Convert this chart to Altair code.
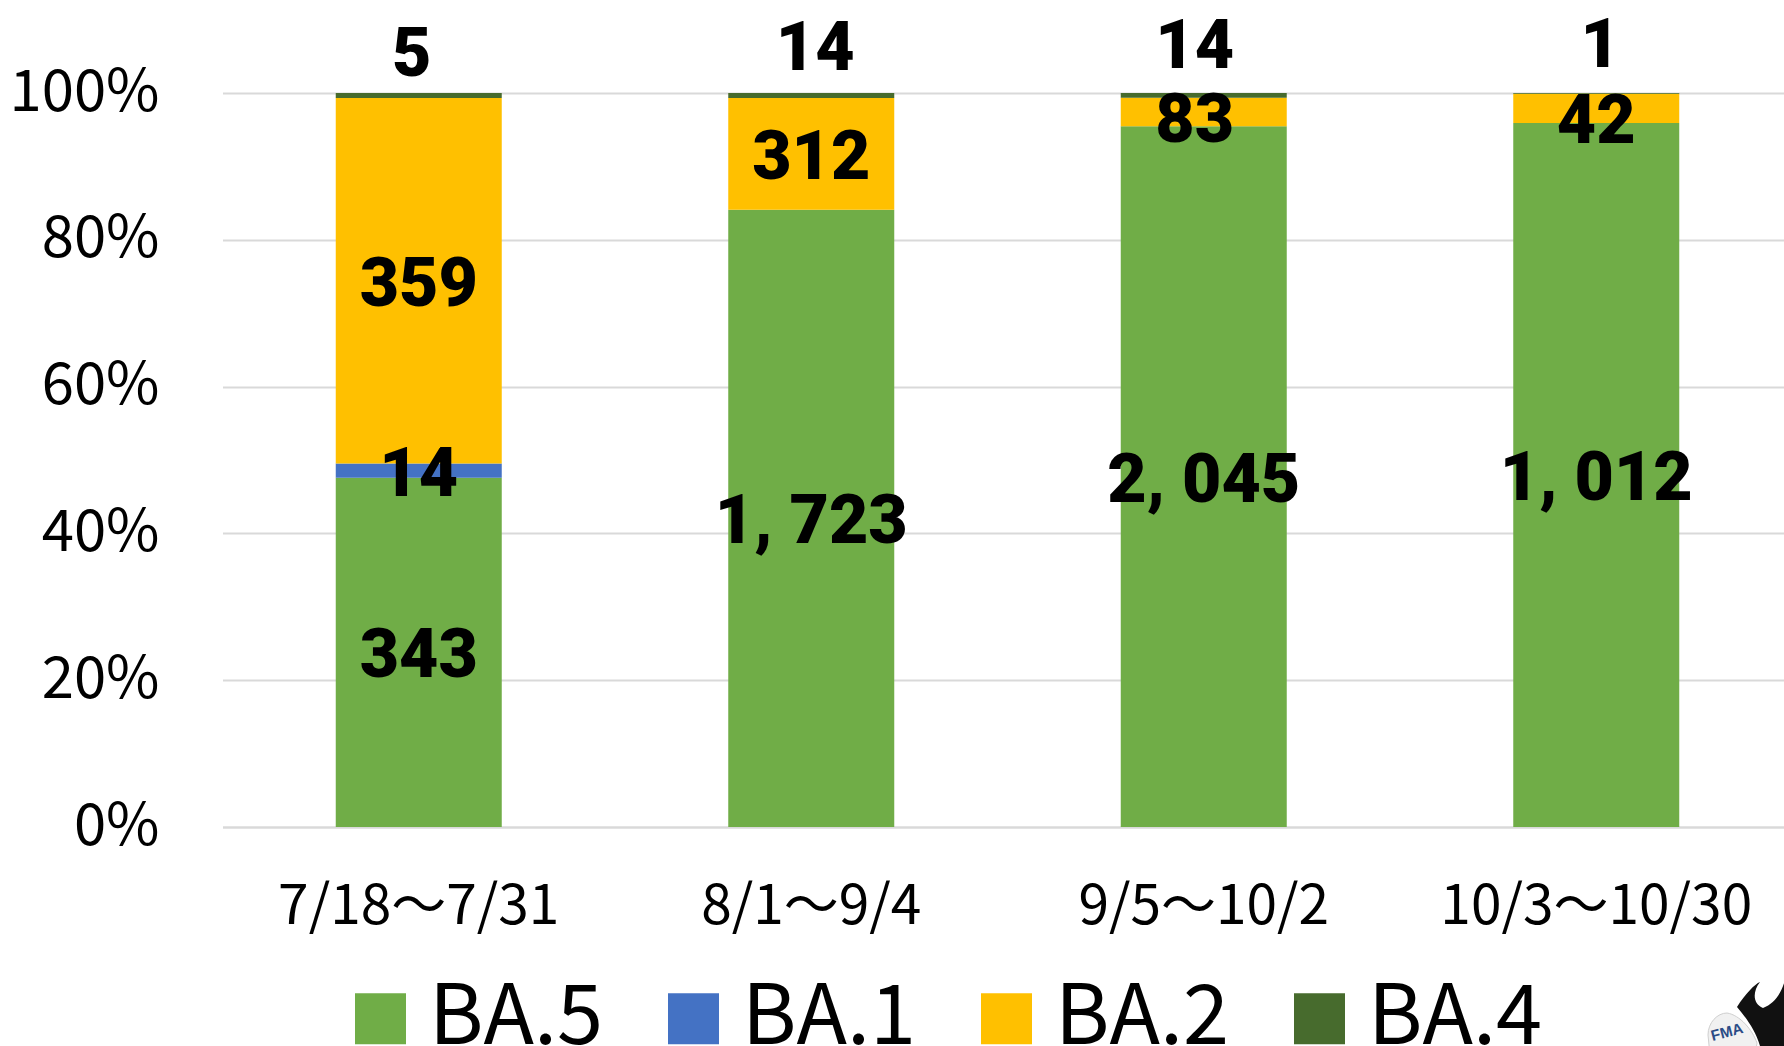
import altair as alt
import pandas as pd

periods = ["7/18〜7/31", "8/1〜9/4", "9/5〜10/2", "10/3〜10/30"]
variants = ["BA.5", "BA.1", "BA.2", "BA.4"]
colors = ["#70ad47", "#4472c4", "#ffc000", "#476b2d"]

ba5 = [343, 1723, 2045, 1012]
ba1 = [14, 0, 0, 0]
ba2 = [359, 312, 83, 42]
ba4 = [5, 14, 14, 1]

JP_FONT = "Noto Sans CJK JP"
NUM_FONT = "Roboto"

rows = []
for p, period in enumerate(periods):
    counts = [ba5[p], ba1[p], ba2[p], ba4[p]]
    total = sum(counts)
    running = 0
    for v, variant in enumerate(variants):
        count = counts[v]
        rows.append({
            "period": period,
            "variant": variant,
            "order": v,
            "count": count,
            "mid": (running + count / 2) / total,
            "label": f"{count:,}".replace(",", ", "),
        })
        running += count
df = pd.DataFrame(rows)

x_enc = alt.X(
    "period:N",
    sort=periods,
    title=None,
    scale=alt.Scale(domain=periods, range=[0.5, 1570.5], paddingInner=0.577, paddingOuter=0.2885),
    axis=alt.Axis(
        labelAngle=0, labelFont=JP_FONT, labelFontSize=55, labelColor="#000000",
        labelPadding=53, labelLimit=500, ticks=False, domainColor="#d9d9d9", domainWidth=2,
        grid=False, labelOverlap=False,
    ),
)

bars = alt.Chart(df).mark_bar(size=166).encode(
    x=x_enc,
    y=alt.Y(
        "count:Q",
        stack="normalize",
        title=None,
        scale=alt.Scale(domain=[0, 1]),
        axis=alt.Axis(
            format=".0%", values=[0, 0.2, 0.4, 0.6, 0.8, 1],
            labelFont=JP_FONT, labelFontSize=58, labelColor="#000000", labelPadding=63,
            ticks=False, domain=False, gridColor="#d9d9d9", gridWidth=2,
        ),
    ),
    color=alt.Color(
        "variant:N",
        scale=alt.Scale(domain=variants, range=colors),
        legend=alt.Legend(
            title=None, orient="none", direction="horizontal", columns=4,
            legendX=117, legendY=884, symbolType="square", symbolSize=2601,
            symbolStrokeWidth=0, labelFont=JP_FONT, labelFontSize=83,
            labelColor="#000000", labelOffset=7, columnPadding=48, padding=0,
            labelLimit=400, symbolOpacity=1,
        ),
    ),
    order=alt.Order("order:Q"),
)


def value_labels(selection, dx=0, dy=0):
    """Count labels for the given (period index, variant) pairs."""
    keys = {(periods[p], v) for p, v in selection}
    subset = df[[(r.period, r.variant) in keys for r in df.itertuples()]]
    return alt.Chart(subset).mark_text(
        font=NUM_FONT, fontWeight=900, fontSize=68, color="#000000",
        baseline="middle", align="center", dx=dx, dy=dy,
    ).encode(
        x=alt.X("period:N", sort=periods, title=None),
        y=alt.Y("mid:Q", title=None),
        text="label:N",
    )


centred = value_labels([
    (0, "BA.5"), (1, "BA.5"), (2, "BA.5"), (3, "BA.5"),
    (0, "BA.1"), (0, "BA.2"), (1, "BA.2"),
], dy=5)
narrow_segment_3 = value_labels([(2, "BA.2")], dx=-9, dy=10)
narrow_segment_4 = value_labels([(3, "BA.2")], dy=15)
top_first = value_labels([(0, "BA.4")], dx=-7, dy=-40)
top_third = value_labels([(2, "BA.4")], dx=-9, dy=-47)
top_right = value_labels([(1, "BA.4"), (3, "BA.4")], dx=4, dy=-46)

# Society emblem in the lower right corner
logo_anchor = pd.DataFrame({"n": [0]})
shield = alt.Chart(logo_anchor).mark_point(
    filled=True, opacity=1, color="#f1f1f1", stroke="#cfcfcf", strokeWidth=1, size=10000,
    shape="M -0.44 0.1 C -0.44 -0.15 -0.25 -0.34 -0.06 -0.34 C 0.2 -0.3 0.45 0 0.54 0.26 L 0.5 0.5 L -0.4 0.5 Z",
).encode(x=alt.value(1508), y=alt.value(937))
flame = alt.Chart(logo_anchor).mark_point(
    filled=True, opacity=1, color="#111111", size=10000,
    shape="M -0.46 -0.14 C -0.3 -0.4 -0.1 -0.6 0 -0.64 C -0.15 -0.45 -0.15 -0.2 0.06 -0.12 C 0.28 -0.2 0.42 -0.4 0.5 -0.68 L 0.6 1 L 0 0.64 C -0.1 0.3 -0.3 0.05 -0.46 -0.14 Z",
).encode(x=alt.value(1538), y=alt.value(921))
fma = alt.Chart(logo_anchor).mark_text(
    text="FMA", font="Liberation Sans", fontWeight="bold", fontSize=15,
    color="#2b4c86", angle=345,
).encode(x=alt.value(1505), y=alt.value(939))

chart = (
    alt.layer(bars, centred, narrow_segment_3, narrow_segment_4, top_first, top_third, top_right, shield, flame, fma)
    .properties(
        width=1562, height=734,
        padding={"left": 222, "top": 93, "right": 0, "bottom": 219},
        autosize=alt.AutoSizeParams(type="none"),
        background="#ffffff",
    )
    .configure_view(stroke=None)
)

chart.save("out.html", embed_options={"renderer": "svg", "actions": False})
